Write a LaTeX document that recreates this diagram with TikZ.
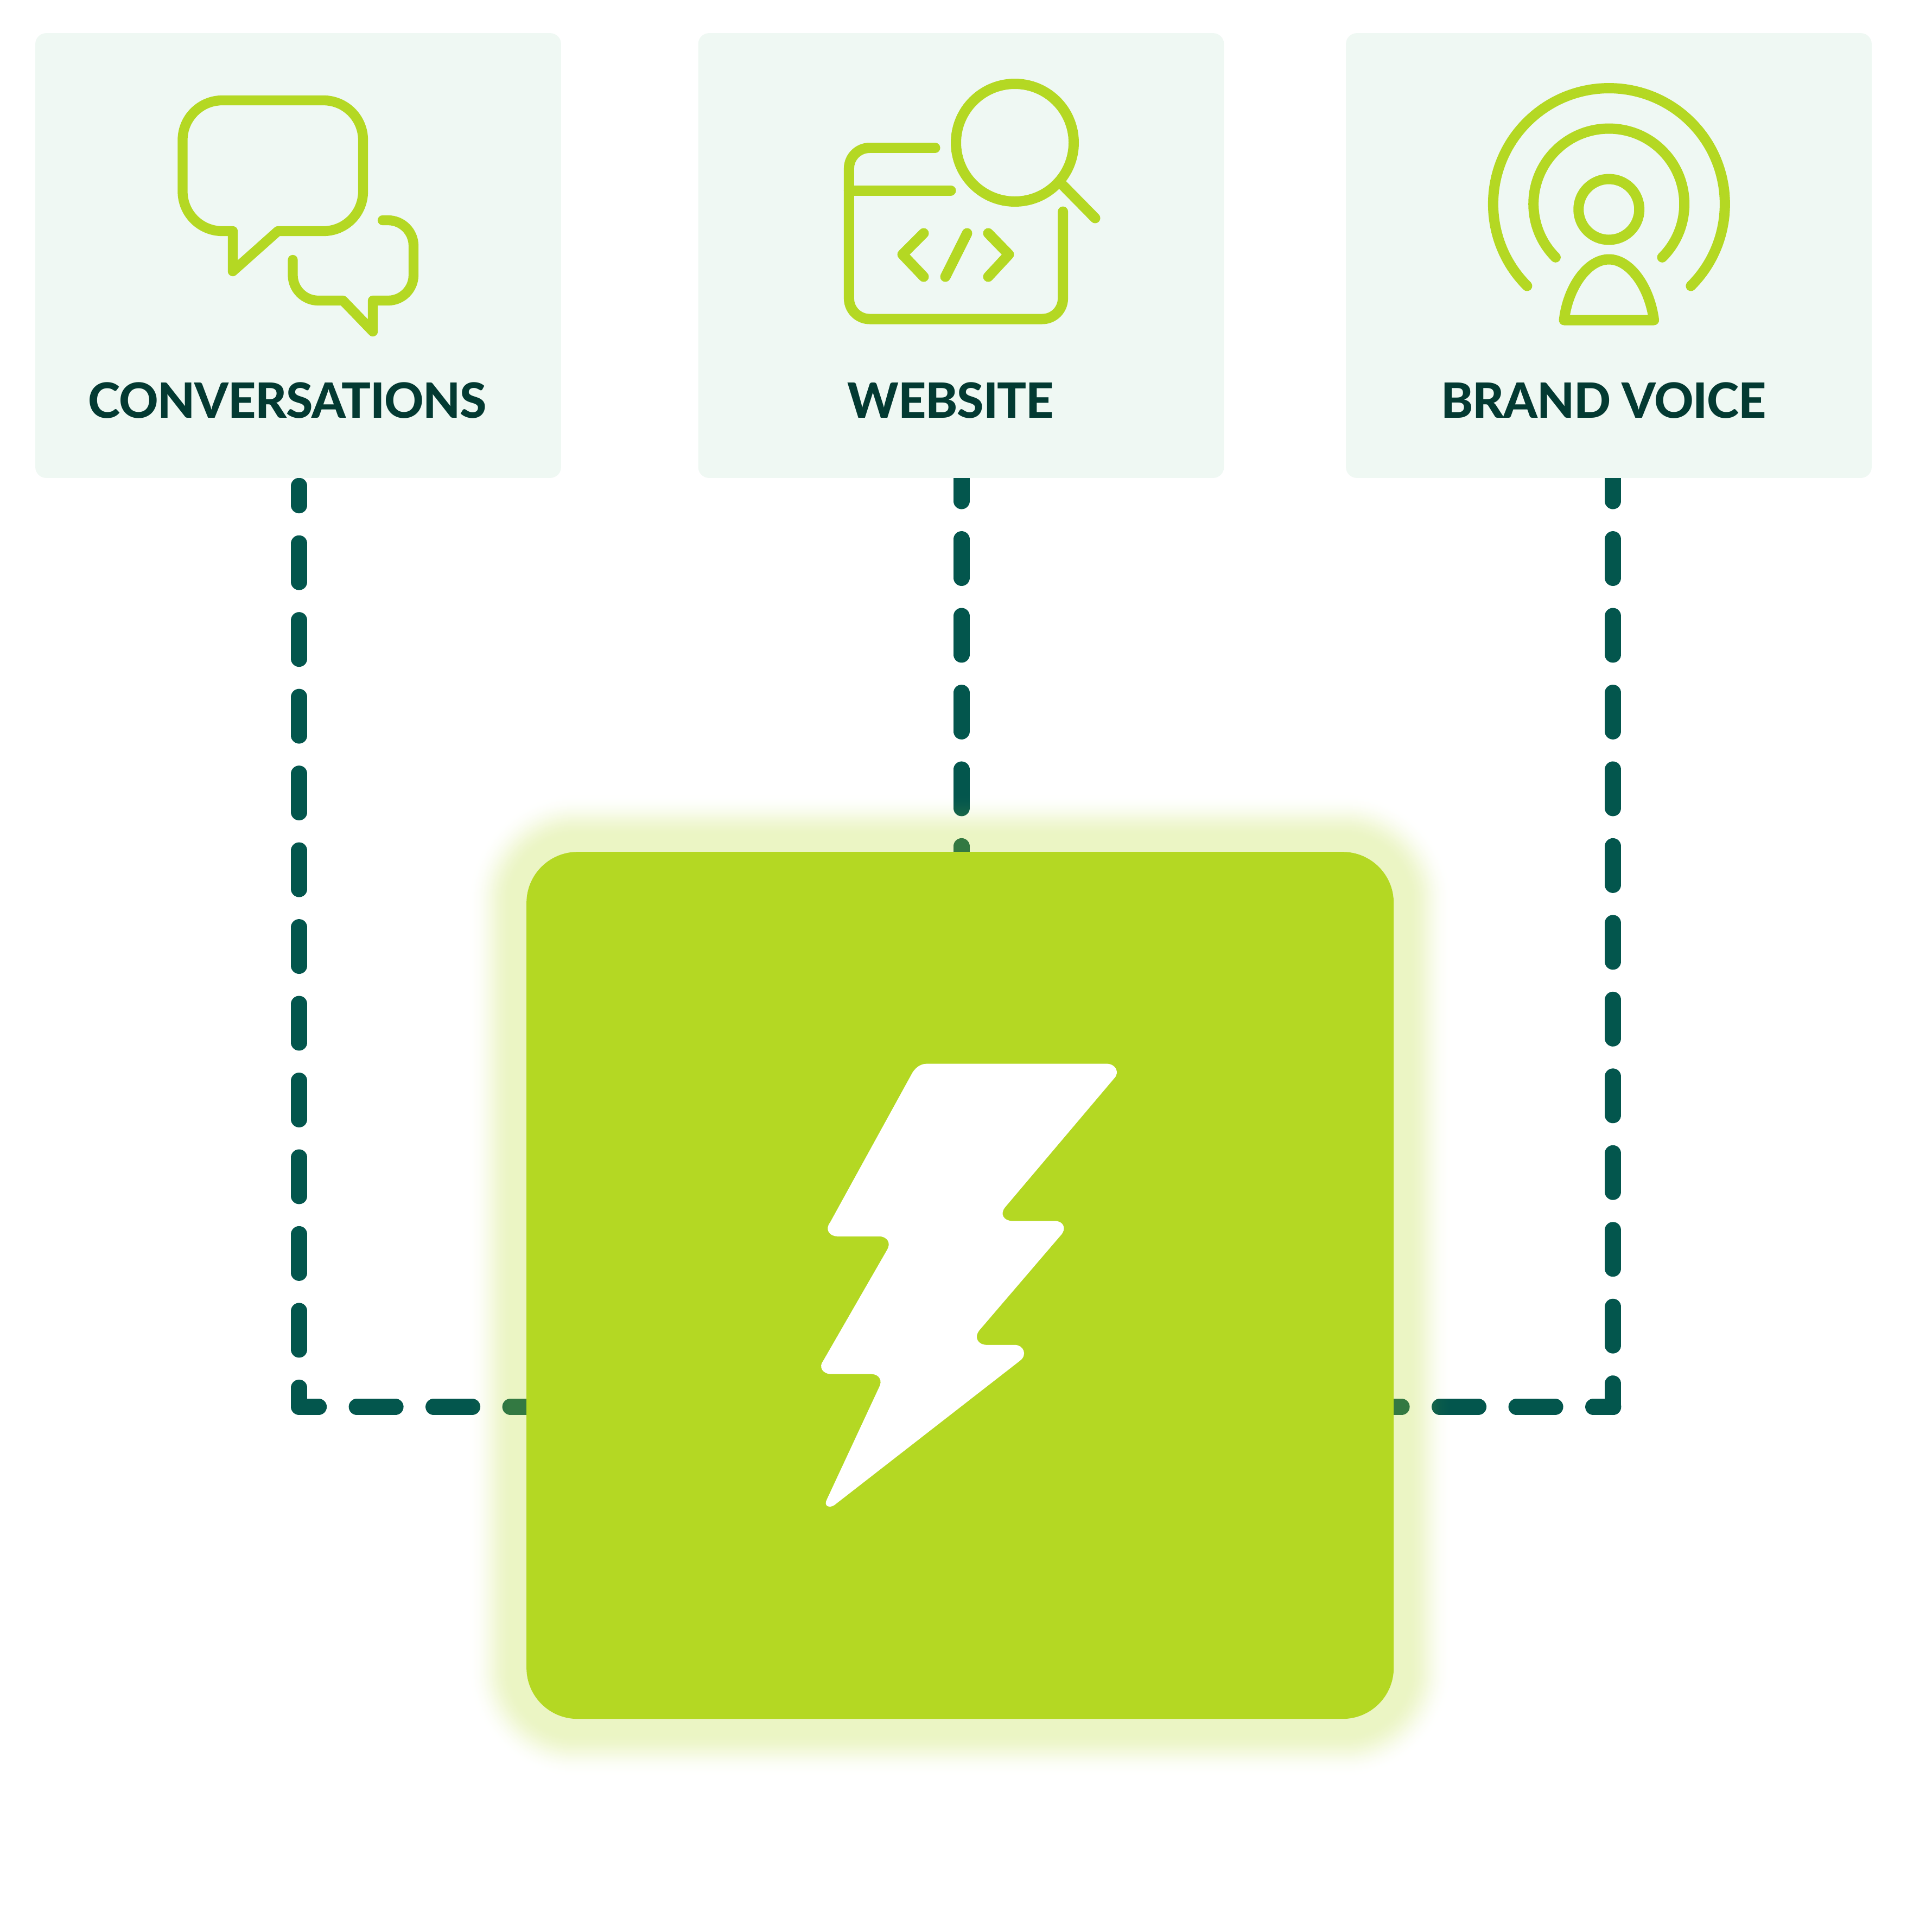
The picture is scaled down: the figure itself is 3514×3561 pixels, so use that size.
\documentclass[tikz,border=0pt]{standalone}
\usepackage{fontspec}
\setmainfont{Lato}[BoldFont={Lato Heavy},BoldFeatures={LetterSpace=-1.4}]
\usetikzlibrary{calc}
\definecolor{lime}{HTML}{B4D823}
\definecolor{pale}{HTML}{EFF8F3}
\definecolor{inkd}{HTML}{033A32}
\definecolor{dashc}{HTML}{03564D}
\colorlet{conncol}{dashc}
\def\px{0.02cm}
\pgfdeclarelayer{bgl}\pgfdeclarelayer{conn}\pgfdeclarelayer{glowl}
\pgfsetlayers{bgl,conn,glowl,main}
\tikzset{
  card/.style={rectangle,fill=pale,draw=none,rounded corners=11.4pt,minimum width=19.38cm,minimum height=16.4cm,inner sep=0pt},
  lab/.style={anchor=base,text=inkd,font=\fontsize{51}{60}\selectfont\bfseries,inner sep=0pt},
  core/.style={rectangle,fill=lime,draw=none,rounded corners=53.5pt,minimum width=31.966cm,minimum height=31.966cm,inner sep=0pt},
  ico/.style={draw=lime,line width=10.8pt,line cap=round,line join=round},
  conn/.style={draw=conncol,line width=17.07pt,line cap=round,line join=round,dash pattern=on 40.4pt off 40.12pt},
}
\newcommand{\allconns}{%
  \draw[conn,dash phase=20.2pt] (s1) -- (k1) -- (c.west |- k1);
  \draw[conn,dash phase=16.2pt] (s2) -- (s2 |- c.north);
  \draw[conn,dash phase=16.2pt] (s3) -- (k3);
  \draw[conn,dash phase=19.75pt] (k3) -- (c.east |- k3);
}
\begin{document}
\begin{tikzpicture}[x=0.02cm,y=0.02cm,yscale=-1]
\useasboundingbox (0,0) rectangle (3514,3561);
\begin{pgfonlayer}{bgl}
\fill[white] (0,0) rectangle (3514,3561);
\end{pgfonlayer}
% cards
\node[card] (b1) at (549.5,471) {};
\node[card] (b2) at (1771,471) {};
\node[card] (b3) at (2964.5,471) {};
\node[lab] (t1) at (530,770) {CONVERSATIONS};
\node[lab] (t2) at (1752,770) {WEBSITE};
\node[lab] (t3) at (2955,770) {BRAND VOICE};
% central block
\node[core] (c) at (1769.15,2369.15) {};
% connector anchors
\coordinate (s1) at (551.3,895.7);
\coordinate (k1) at (551.3,2593);
\coordinate (s2) at (1771.7,881);
\coordinate (s3) at (2972.3,881);
\coordinate (k3) at (2972.3,2593);
\begin{pgfonlayer}{conn}
\allconns
\end{pgfonlayer}
% glow: nested opaque bands, the connectors tinted inside each band
\begin{pgfonlayer}{glowl}
\foreach \d in {110,108,...,28}{
  \pgfmathsetmacro\rc{(94+\d)*0.569}
  \pgfmathsetmacro\tt{(110-\d)/82}
  \pgfmathsetmacro\A{27*(\tt*\tt*(3-2*\tt))^1.2}
  \colorlet{glowcol}{lime!\A!white}
  \colorlet{conncol}{lime!\A!dashc}
  \begin{scope}
    \clip[rounded corners=\rc pt] ({970-\d},{1570-\d}) rectangle ({2568.3+\d},{3168.3+\d});
    \fill[glowcol] ({970-\d},{1570-\d}) rectangle ({2568.3+\d},{3168.3+\d});
    \allconns
  \end{scope}
}
\end{pgfonlayer}
% bubbles
\draw[ico,line width=10.4pt] (429,426) -- (429,500) -- (512,426) -- (596,426)
  arc[start angle=90,end angle=0,radius=73*\px] -- (669,258)
  arc[start angle=0,end angle=-90,radius=73*\px] -- (409.5,185)
  arc[start angle=-90,end angle=-180,radius=73*\px] -- (336.5,353)
  arc[start angle=180,end angle=90,radius=73*\px] -- cycle;
\draw[ico,line width=10.4pt] (705,406) -- (715,406)
  arc[start angle=-90,end angle=0,radius=47*\px] -- (762,507)
  arc[start angle=0,end angle=90,radius=47*\px] -- (687,554) -- (687,611) -- (632,554) -- (586.5,554)
  arc[start angle=90,end angle=180,radius=47*\px] -- (539.5,479);
% website
\draw[ico] (1723,272.5) -- (1602.4,272.5)
  arc[start angle=-90,end angle=-180,radius=38*\px] -- (1564.4,550)
  arc[start angle=180,end angle=90,radius=38*\px] -- (1920.6,588)
  arc[start angle=90,end angle=0,radius=38*\px] -- (1958.6,390);
\draw[ico] (1564.4,351) -- (1752,351);
\draw[ico] (1870,263) circle[radius=108.5*\px];
\draw[ico] (1958,341) -- (2018,402);
\draw[ico] (1702,430) -- (1663,469) -- (1702,510);
\draw[ico] (1782,430) -- (1742,510);
\draw[ico] (1821,430) -- (1859,469) -- (1821,510);
% brand voice
\draw[ico] (2813.9,527) arc[start angle=135,end angle=405,radius=213.5*\px];
\draw[ico] (2866.4,474.3) arc[start angle=135,end angle=405,radius=139*\px];
\draw[ico] (2964.7,386) circle[radius=56*\px];
\draw[ico] (2882,590) .. controls (2889,530) and (2925,478) .. (2964.7,478)
  .. controls (3004,478) and (3040,530) .. (3047.6,590) -- cycle;
% bolt
\fill[white] (1709,1960.6) -- (2039,1960.6) .. controls (2056,1960.6) and (2064,1977) .. (2052.7,1988)
 -- (1851.8,2225.5) .. controls (1842,2238) and (1850,2250.3) .. (1865,2250.3)
 -- (1943.3,2250.3) .. controls (1960,2250.3) and (1966,2265) .. (1954.5,2277)
 -- (1805,2451.5) .. controls (1794,2465) and (1802,2478.8) .. (1818.3,2478.8)
 -- (1869.6,2478.8) .. controls (1886,2478.8) and (1894,2497) .. (1879.5,2508)
 -- (1537,2774.5) .. controls (1528,2780) and (1517,2776) .. (1523.7,2763.6)
 -- (1619.6,2557.6) .. controls (1627,2545) and (1620,2532.7) .. (1606,2532.7)
 -- (1532.6,2532.7) .. controls (1515,2532.7) and (1508,2519) .. (1517,2508)
 -- (1635,2303) .. controls (1642,2291) and (1635,2278.8) .. (1619.6,2278.8)
 -- (1543.8,2278.8) .. controls (1527,2278.8) and (1520,2265) .. (1529.5,2253.3)
 -- (1682,1975.8) .. controls (1690,1965) and (1698,1960.6) .. (1709,1960.6) -- cycle;
\end{tikzpicture}
\end{document}
